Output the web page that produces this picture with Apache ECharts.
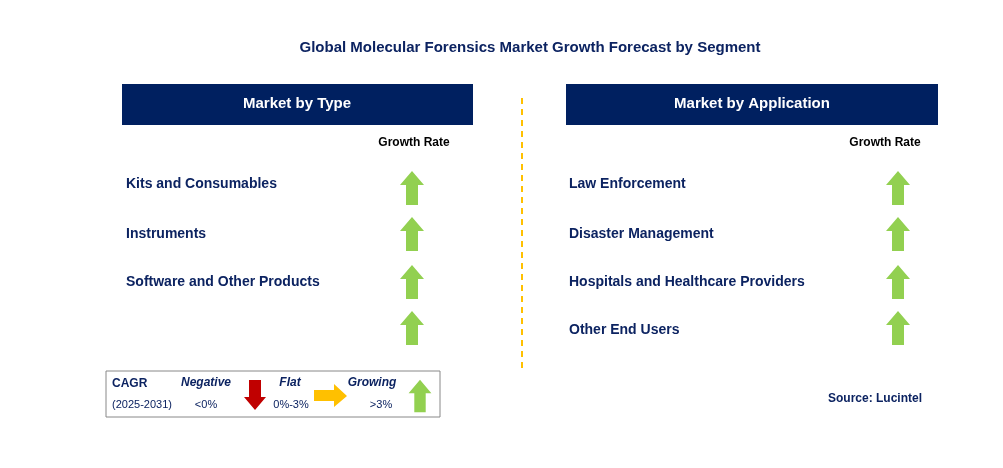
<!DOCTYPE html>
<html><head><meta charset="utf-8">
<script src="https://cdn.jsdelivr.net/npm/echarts@6/dist/echarts.min.js"></script>
<style>html,body{margin:0;padding:0;background:#fff}#c{width:1003px;height:468px}</style>
</head><body><div id="c"></div>
<script>
const title = 'Global Molecular Forensics Market Growth Forecast by Segment';
const typeCategories = ['Kits and Consumables', 'Instruments', 'Software and Other Products', ''];
const typeTrend = ['up', 'up', 'up', 'up'];
const appCategories = ['Law Enforcement', 'Disaster Management', 'Hospitals and Healthcare Providers', 'Other End Users'];
const appTrend = ['up', 'up', 'up', 'up'];
const rowY = [188, 234, 282, 328];
const textY = [184, 234, 282, 330];

const navy = '#0c2361', green = '#92d050', red = '#c00000', orange = '#ffc000';
const F = 'Liberation Sans, Arial, sans-serif';
function up(cx, cy, s, color) {
  s = s || 1;
  const hw = 12*s, sw = 6*s, top = cy-17*s, neck = cy-3*s, bot = cy+17*s;
  return {type:'polygon', shape:{points:[[cx,top],[cx+hw,neck],[cx+sw,neck],[cx+sw,bot],[cx-sw,bot],[cx-sw,neck],[cx-hw,neck]]}, style:{fill:color||green}};
}
const g = [];
g.push({type:'text', x:530, y:48, style:{text:title, font:'bold 15px '+F, fill:navy, align:'center', verticalAlign:'middle'}});
g.push({type:'rect', shape:{x:122,y:84,width:351,height:41}, style:{fill:'#002060'}});
g.push({type:'text', x:297, y:104, style:{text:'Market by Type', font:'bold 15px '+F, fill:'#fff', align:'center', verticalAlign:'middle'}});
g.push({type:'rect', shape:{x:566,y:84,width:372,height:41}, style:{fill:'#002060'}});
g.push({type:'text', x:752, y:104, style:{text:'Market by Application', font:'bold 15px '+F, fill:'#fff', align:'center', verticalAlign:'middle'}});
g.push({type:'text', x:414, y:143, style:{text:'Growth Rate', font:'bold 12px '+F, fill:'#000', align:'center', verticalAlign:'middle'}});
g.push({type:'text', x:885, y:143, style:{text:'Growth Rate', font:'bold 12px '+F, fill:'#000', align:'center', verticalAlign:'middle'}});
g.push({type:'line', shape:{x1:522,y1:98,x2:522,y2:368}, style:{stroke:orange, lineWidth:2, lineDash:[6,5]}});
typeCategories.forEach((c,i)=>{
  g.push({type:'text', x:126, y:textY[i], style:{text:c, font:'bold 14px '+F, fill:navy, verticalAlign:'middle'}});
  if (typeTrend[i]==='up') g.push(up(412, rowY[i]));
});
appCategories.forEach((c,i)=>{
  g.push({type:'text', x:569, y:textY[i], style:{text:c, font:'bold 14px '+F, fill:navy, verticalAlign:'middle'}});
  if (appTrend[i]==='up') g.push(up(898, rowY[i]));
});
// legend
g.push({type:'rect', shape:{x:106,y:371,width:334,height:46}, style:{fill:'#fff', stroke:'#888', lineWidth:1}});
g.push({type:'text', x:112, y:384, style:{text:'CAGR', font:'bold 12px '+F, fill:navy, verticalAlign:'middle'}});
g.push({type:'text', x:112, y:405, style:{text:'(2025-2031)', font:'11px '+F, fill:navy, verticalAlign:'middle'}});
g.push({type:'text', x:206, y:383, style:{text:'Negative', font:'italic bold 12px '+F, fill:navy, align:'center', verticalAlign:'middle'}});
g.push({type:'text', x:206, y:405, style:{text:'<0%', font:'11px '+F, fill:navy, align:'center', verticalAlign:'middle'}});
g.push({type:'polygon', shape:{points:[[249,380],[261,380],[261,397],[266,397],[255,410],[244,397],[249,397]]}, style:{fill:red}});
g.push({type:'text', x:290, y:383, style:{text:'Flat', font:'italic bold 12px '+F, fill:navy, align:'center', verticalAlign:'middle'}});
g.push({type:'text', x:291, y:405, style:{text:'0%-3%', font:'11px '+F, fill:navy, align:'center', verticalAlign:'middle'}});
g.push({type:'polygon', shape:{points:[[314,390],[334,390],[334,384],[347,396],[334,407],[334,401],[314,401]]}, style:{fill:orange}});
g.push({type:'text', x:372, y:383, style:{text:'Growing', font:'italic bold 12px '+F, fill:navy, align:'center', verticalAlign:'middle'}});
g.push({type:'text', x:381, y:405, style:{text:'>3%', font:'11px '+F, fill:navy, align:'center', verticalAlign:'middle'}});
g.push(up(420, 396, 0.95));
g.push({type:'text', x:922, y:399, style:{text:'Source: Lucintel', font:'bold 12px '+F, fill:navy, align:'right', verticalAlign:'middle'}});
const chart = echarts.init(document.getElementById('c'));
chart.setOption({backgroundColor:'#fff', animation:false, graphic:g});
</script></body></html>
